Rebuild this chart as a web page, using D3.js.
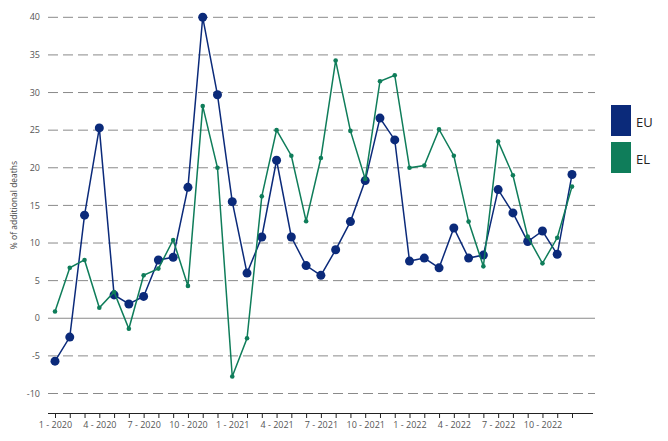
<!DOCTYPE html>
<html><head><meta charset="utf-8">
<script src="https://cdn.jsdelivr.net/npm/d3@7"></script>
<style>body{margin:0;background:#fff;font-family:"Open Sans",sans-serif}</style>
</head><body><svg id="c" width="668" height="441"></svg>
<script>
const months = ["1 - 2020","2 - 2020","3 - 2020","4 - 2020","5 - 2020","6 - 2020","7 - 2020","8 - 2020","9 - 2020","10 - 2020","11 - 2020","12 - 2020",
"1 - 2021","2 - 2021","3 - 2021","4 - 2021","5 - 2021","6 - 2021","7 - 2021","8 - 2021","9 - 2021","10 - 2021","11 - 2021","12 - 2021",
"1 - 2022","2 - 2022","3 - 2022","4 - 2022","5 - 2022","6 - 2022","7 - 2022","8 - 2022","9 - 2022","10 - 2022","11 - 2022","12 - 2022"];
const euValues = [-5.7,-2.5,13.7,25.3,3.1,1.9,2.9,7.75,8.1,17.4,40.0,29.7,
15.5,6.0,10.8,21.0,10.8,7.0,5.7,9.1,12.85,18.3,26.6,23.7,
7.6,8.0,6.7,12.0,8.0,8.4,17.1,14.0,10.2,11.6,8.5,19.1];
const elValues = [0.9,6.7,7.75,1.4,3.5,-1.4,5.7,6.6,10.4,4.3,28.2,20.0,
-7.75,-2.66,16.2,25.0,21.6,12.9,21.3,34.25,24.9,18.5,31.5,32.3,
20.0,20.3,25.1,21.6,12.85,6.9,23.5,19.0,10.85,7.3,10.7,17.5];
const yTicks = [-10,-5,0,5,10,15,20,25,30,35,40];
const series = [
  {name:"EU", values:euValues, color:"#0b2a7a", r:4.5},
  {name:"EL", values:elValues, color:"#0f7d5a", r:2.3}
];

const svg = d3.select("#c");
const x = d3.scalePoint().domain(months).range([55, 572]);
const y = d3.scaleLinear().domain([-10, 40]).range([393.5, 17.3]);
const gridX0 = 48, gridX1 = 595;

// gridlines
svg.append("g").selectAll("line").data(yTicks).join("line")
  .attr("x1", gridX0).attr("x2", gridX1)
  .attr("y1", d => y(d)).attr("y2", d => y(d))
  .attr("stroke", "#8a8a8a").attr("stroke-width", 1)
  .attr("stroke-dasharray", d => d === 0 ? null : "10,5");

// y labels
svg.append("g").selectAll("text").data(yTicks).join("text")
  .attr("x", 40).attr("y", d => y(d)).attr("dy", "0.35em")
  .attr("text-anchor", "end").attr("font-size", 9).attr("fill", "#555")
  .text(d => d);

svg.append("text").attr("transform", "translate(17,205) rotate(-90)")
  .attr("text-anchor", "middle").attr("font-size", 8.5).attr("fill", "#444")
  .text("% of additional deaths");

// x axis
const xAxis = d3.axisBottom(x).tickSize(5).tickPadding(4)
  .tickFormat((d, i) => i % 3 === 0 ? d : "");
const gx = svg.append("g").attr("transform", "translate(0,413)").call(xAxis);
gx.select(".domain").remove();
gx.append("line").attr("x1", gridX0).attr("x2", 593).attr("y1", 0.5).attr("y2", 0.5)
  .attr("stroke", "#222").attr("stroke-width", 1.2);
gx.selectAll(".tick line").attr("stroke", "#222");
gx.selectAll(".tick text").attr("font-size", 9).attr("fill", "#555")
  .attr("font-family", "Open Sans, sans-serif");

// lines (EU first, EL on top)
const line = d3.line().x((d, i) => x(months[i])).y(d => y(d));
series.forEach(s => {
  const g = svg.append("g");
  g.append("path").datum(s.values).attr("d", line)
    .attr("fill", "none").attr("stroke", s.color).attr("stroke-width", 1.5);
  g.selectAll("circle").data(s.values).join("circle")
    .attr("cx", (d, i) => x(months[i])).attr("cy", d => y(d))
    .attr("r", s.r).attr("fill", s.color);
});

// legend
const lg = svg.append("g");
series.forEach((s, i) => {
  const top = 105 + i * 37;
  lg.append("rect").attr("x", 611).attr("y", top).attr("width", 20).attr("height", 31)
    .attr("fill", s.color);
  lg.append("text").attr("x", 636).attr("y", top + 17).attr("dy", "0.35em")
    .attr("font-size", 13).attr("fill", "#222").text(s.name);
});
</script></body></html>
